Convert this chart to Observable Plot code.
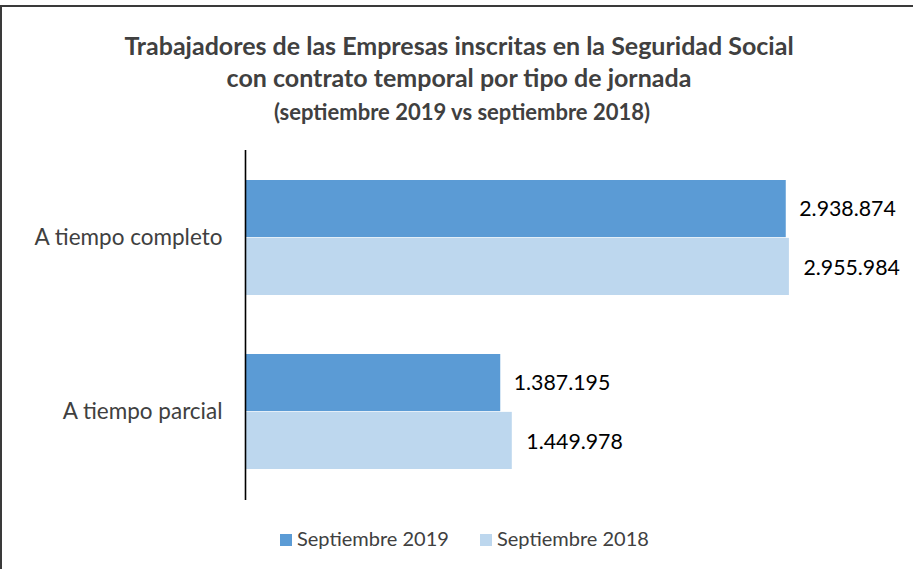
<!DOCTYPE html>
<html>
<head>
<meta charset="utf-8">
<script src="https://cdn.jsdelivr.net/npm/d3@7"></script>
<script src="https://cdn.jsdelivr.net/npm/@observablehq/plot@0.6"></script>
<style>
  body { margin: 0; background: #fff; font-family: Lato, "Open Sans", sans-serif; }
  #frame { position: absolute; left: 0; top: 5px; width: 913px; height: 564px; box-sizing: border-box;
           border-top: 2px solid #3a3a3a; border-left: 2px solid #3a3a3a; }
  .t { position: absolute; left: 0; width: 918px; text-align: center; color: #404040; font-weight: bold; white-space: nowrap; }
  #t1 { top: 30px; font-size: 25px; line-height: 30px; }
  #t2 { top: 62px; font-size: 25px; line-height: 30px; }
  #t3 { top: 99px; font-size: 22px; line-height: 26px; width: 924px; }
  #chart { position: absolute; left: 0; top: 140px; }
  #legend { position: absolute; top: 525px; left: 0; width: 913px; height: 26px; font-size: 20px; color: #404040; }
  .li { position: absolute; top: 0; line-height: 26px; white-space: nowrap; }
  .sw { display: inline-block; width: 12px; height: 12px; margin-right: 5px; vertical-align: 0px; }
</style>
</head>
<body>
<div id="frame"></div>
<div class="t" id="t1"></div>
<div class="t" id="t2"></div>
<div class="t" id="t3"></div>
<div id="chart"></div>
<div id="legend"></div>
<script>
// ---- data ----
const titleLines = ["Trabajadores de las Empresas inscritas en la Seguridad Social",
                    "con contrato temporal por tipo de jornada"];
const subtitle = "(septiembre 2019 vs septiembre 2018)";
const categories = ["A tiempo completo", "A tiempo parcial"];
const seriesNames = ["Septiembre 2019", "Septiembre 2018"];
const values2019 = [2938874, 1387195];
const values2018 = [2955984, 1449978];
const seriesColors = ["#5B9BD5", "#BDD7EE"];

document.getElementById("t1").textContent = titleLines[0];
document.getElementById("t2").textContent = titleLines[1];
document.getElementById("t3").textContent = subtitle;

const rows2019 = categories.map((c, i) => ({category: c, series: seriesNames[0], value: values2019[i]}));
const rows2018 = categories.map((c, i) => ({category: c, series: seriesNames[1], value: values2018[i]}));

const fmt = d3.formatLocale({decimal: ",", thousands: ".", grouping: [3], currency: ["", " €"]}).format(",d");

const H = 370, mT = 10, mB = 10;
const padIn = 0.337, padOut = 0.171;
const band = d3.scaleBand().domain(categories).range([mT, H - mB]).paddingInner(padIn).paddingOuter(padOut);
const half = band.bandwidth() / 2;

const plot = Plot.plot({
  width: 913,
  height: H,
  marginLeft: 245,
  marginRight: 24,
  marginTop: mT,
  marginBottom: mB,
  style: {fontFamily: "Lato, 'Open Sans', sans-serif", color: "#404040", background: "transparent"},
  x: {domain: [0, 3500000], axis: null},
  y: {domain: categories, paddingInner: padIn, paddingOuter: padOut},
  marks: [
    Plot.barX(rows2019, {x: "value", y: "category", fill: seriesColors[0], insetBottom: half}),
    Plot.barX(rows2018, {x: "value", y: "category", fill: seriesColors[1], insetTop: half}),
    Plot.text(rows2019, {x: "value", y: "category", text: d => fmt(d.value), dy: -half / 2, dx: 13,
      textAnchor: "start", fill: "#000", fontSize: 21.3}),
    Plot.text(rows2018, {x: "value", y: "category", text: d => fmt(d.value), dy: half / 2 + 1, dx: 14,
      textAnchor: "start", fill: "#000", fontSize: 21.3}),
    Plot.axisY({tickSize: 0, tickPadding: 23, fontSize: 22.5, label: null}),
    Plot.ruleX([0], {stroke: "#000", strokeWidth: 1.6})
  ]
});
document.getElementById("chart").appendChild(plot);

const legend = document.getElementById("legend");
const legendX = [280, 480];
seriesNames.forEach((s, i) => {
  const item = document.createElement("div");
  item.className = "li";
  item.style.left = legendX[i] + "px";
  const sw = document.createElement("span");
  sw.className = "sw";
  sw.style.background = seriesColors[i];
  item.appendChild(sw);
  item.appendChild(document.createTextNode(s));
  legend.appendChild(item);
});
</script>
</body>
</html>
